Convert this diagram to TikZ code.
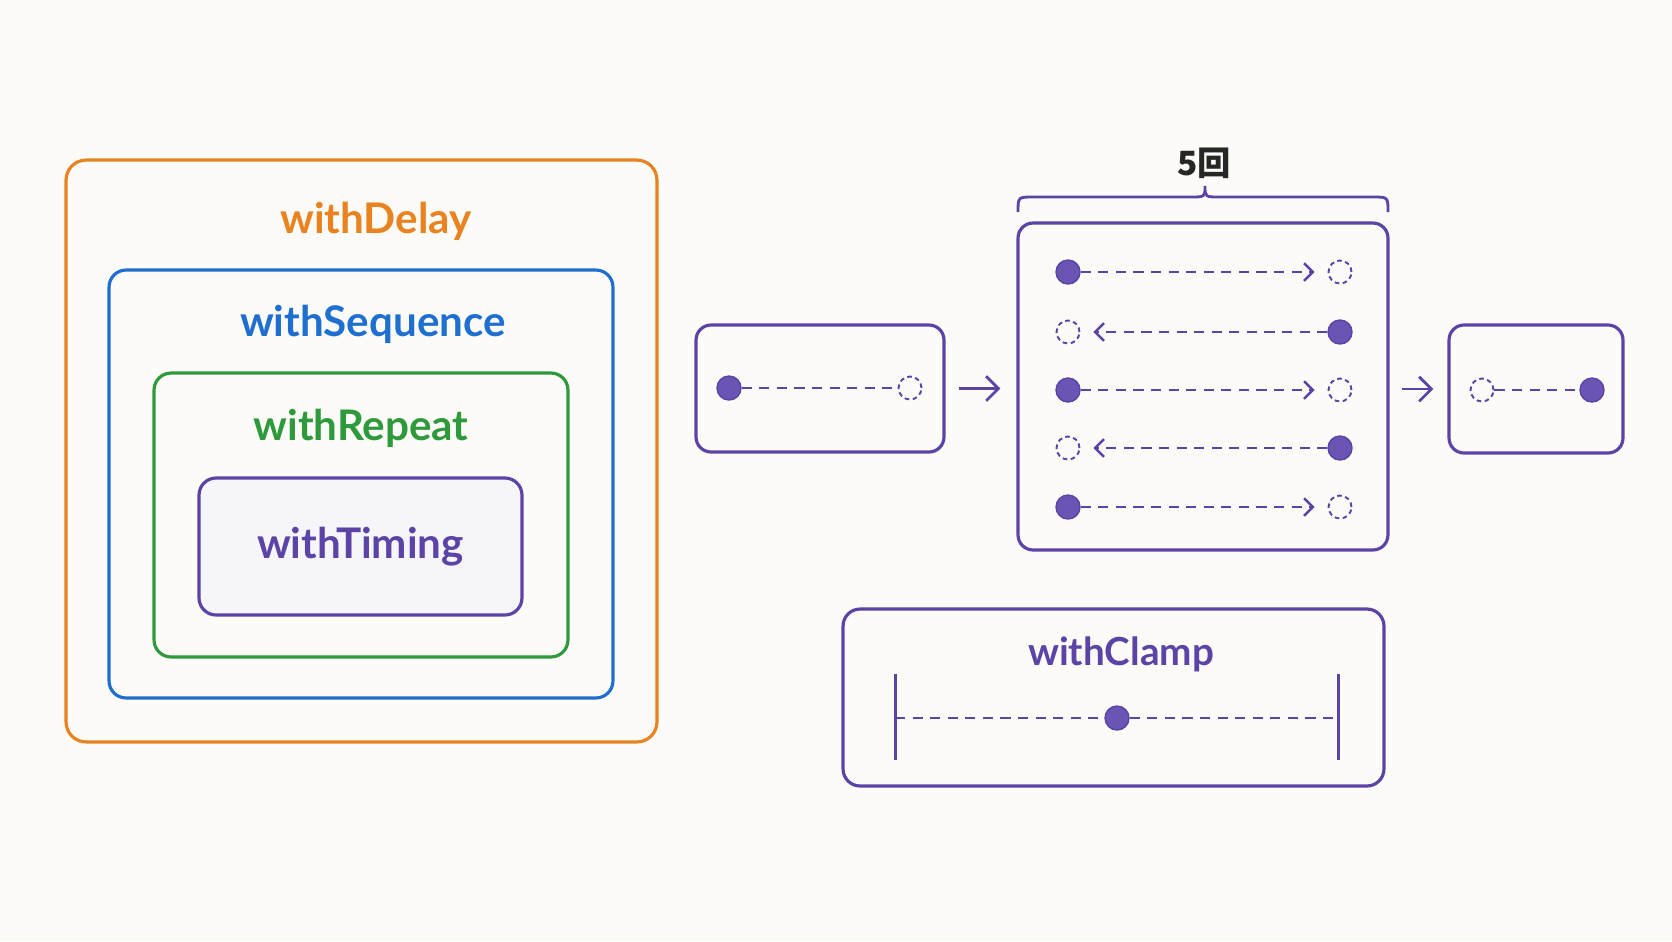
\documentclass[tikz,border=0pt]{standalone}
\usepackage{fontspec}
\setmainfont{Lato}
\newfontfamily\cjk{Noto Sans CJK JP}
\usetikzlibrary{arrows.meta}

\definecolor{bgcol}{HTML}{FCFBF7}
\definecolor{orng}{HTML}{E8831F}
\definecolor{blu}{HTML}{1E6FCF}
\definecolor{grn}{HTML}{2E9A3C}
\definecolor{purp}{HTML}{5B44A6}
\definecolor{dotfill}{HTML}{6A54B4}
\definecolor{lav}{HTML}{F6F5FA}

\begin{document}
\begin{tikzpicture}[x=0.02cm, y=-0.02cm,
	frame/.style={draw, rounded corners=0.34cm, line width=1.8pt, inner sep=0pt},
	title/.style={font=\bfseries\fontsize{24}{28}\selectfont},
	dot/.style={circle, fill=dotfill, draw=purp, line width=0.8pt, minimum size=0.48cm, inner sep=0pt},
	ghost/.style={circle, draw=purp, dash pattern=on 2.6pt off 2pt, line width=1.1pt, minimum size=0.46cm, inner sep=0pt},
	track/.style={purp, line width=1.4pt, dash pattern=on 5.8pt off 4.2pt},
	tip/.style={-{Straight Barb[length=5pt,width=10pt]}, shorten >=0.26cm},
	flow/.style={purp, line width=1.6pt, -{Straight Barb[length=7pt,width=14pt]}}]
	\fill[bgcol] (0,0) rectangle (1672,941);
	\useasboundingbox (0,0) rectangle (1672,941);
	% nested wrappers
	\node[frame, draw=orng, rounded corners=0.4cm, minimum width=11.82cm, minimum height=11.64cm] (delay) at (361.5,451) {};
	\node[frame, draw=blu, minimum width=10.08cm, minimum height=8.56cm] (seq) at (361,484) {};
	\node[frame, draw=grn, minimum width=8.28cm, minimum height=5.68cm] (rep) at (361,515) {};
	\node[frame, draw=purp, fill=lav, minimum width=6.46cm, minimum height=2.74cm] (timing) at (360.5,546.5) {};
	\node[title, text=orng] (delaylbl) at (376,221) {withDelay};
	\node[title, text=blu] (seqlbl) at (373,324) {withSequence};
	\node[title, text=grn] (replbl) at (361,428) {withRepeat};
	\node[title, text=purp] (timinglbl) at (timing) {withTiming};
	% single run
	\node[frame, draw=purp, rounded corners=0.3cm, minimum width=4.96cm, minimum height=2.54cm] (start) at (820,388.5) {};
	\node[dot] (s1) at (729,388) {};
	\node[ghost] (s2) at (910,388) {};
	\draw[track] (s1) -- (s2);
	% repeated runs
	\node[frame, draw=purp, rounded corners=0.3cm, minimum width=7.4cm, minimum height=6.54cm] (loop) at (1203,386.5) {};
	\node[dot] (r1a) at (1068,272) {};
	\node[ghost] (r1b) at (1340,272) {};
	\draw[track, tip] (r1a) -- (r1b);
	\node[ghost] (r2a) at (1068,332) {};
	\node[dot] (r2b) at (1340,332) {};
	\draw[track, tip] (r2b) -- (r2a);
	\node[dot] (r3a) at (1068,390) {};
	\node[ghost] (r3b) at (1340,390) {};
	\draw[track, tip] (r3a) -- (r3b);
	\node[ghost] (r4a) at (1068,448) {};
	\node[dot] (r4b) at (1340,448) {};
	\draw[track, tip] (r4b) -- (r4a);
	\node[dot] (r5a) at (1068,507) {};
	\node[ghost] (r5b) at (1340,507) {};
	\draw[track, tip] (r5a) -- (r5b);
	% brace
	\coordinate (bl) at (1018,212);
	\coordinate (bm) at (1205,186);
	\coordinate (br) at (1388,212);
	\draw[purp, line width=1.6pt] (bl) .. controls (1018,197) .. (1033,197) -- (1190,197)
		.. controls (1205,197) .. (bm) .. controls (1205,197) .. (1220,197) -- (1373,197)
		.. controls (1388,197) .. (br);
	\node[font=\cjk\bfseries\fontsize{19}{21}\selectfont, text=black!85] (times) at (1204,163) {5回};
	% final state
	\node[frame, draw=purp, rounded corners=0.3cm, minimum width=3.48cm, minimum height=2.56cm] (end) at (1536,389) {};
	\node[ghost] (e1) at (1482,390) {};
	\node[dot] (e2) at (1592,390) {};
	\draw[track] (e1) -- (e2);
	\draw[flow, shorten <=0.26cm, shorten >=0.32cm] (start.east) -- (start.east -| loop.west);
	\draw[flow, shorten <=0.24cm, shorten >=0.28cm] (end.west -| loop.east) -- (end.west);
	% clamp
	\node[frame, draw=purp, rounded corners=0.34cm, minimum width=10.82cm, minimum height=3.54cm] (clamp) at (1113.5,697.5) {};
	\node[title, text=purp, font=\bfseries\fontsize{22}{26}\selectfont] (clamplbl) at (1121,654) {withClamp};
	\coordinate (lo) at (895,674);
	\coordinate (hi) at (1338,674);
	\coordinate (lbar) at (895,718);
	\coordinate (rbar) at (1338,718);
	\draw[purp, line width=1.7pt] (lo) -- ++(0,86);
	\draw[purp, line width=1.7pt] (hi) -- ++(0,86);
	\node[dot] (cdot) at (1117,718) {};
	\draw[track] (lbar) -- (cdot);
	\draw[track] (cdot) -- (rbar);
\end{tikzpicture}
\end{document}
